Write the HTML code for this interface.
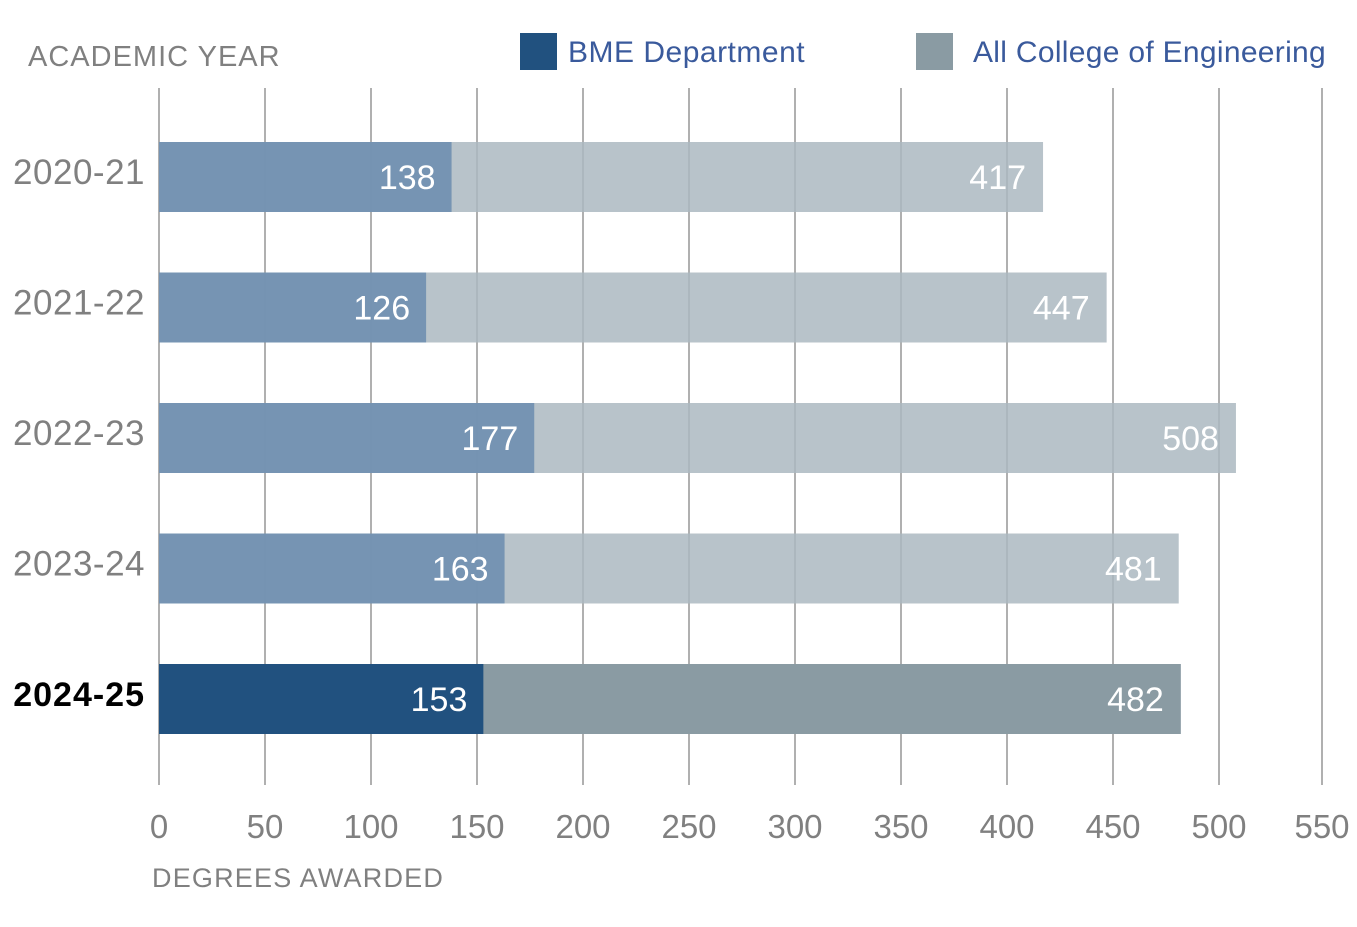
<!DOCTYPE html>
<html><head><meta charset="utf-8"><style>
body{margin:0;background:#fff;}
svg text{font-family:"Liberation Sans",sans-serif;}
</style></head><body>
<svg id="chart" width="1357" height="922" xmlns="http://www.w3.org/2000/svg">
<text x="28" y="66" font-size="29" fill="#808080" letter-spacing="1">ACADEMIC YEAR</text>
<rect x="520" y="33" width="37" height="37" fill="#21517f"/>
<text x="568" y="62" font-size="30" fill="#3a5a9c" letter-spacing="0.5">BME Department</text>
<rect x="916" y="33" width="37" height="37" fill="#8a9ba3"/>
<text x="973" y="62" font-size="30" fill="#3a5a9c" letter-spacing="0.3">All College of Engineering</text>
<g id="grid"></g><g id="bars"></g><g id="labels"></g>
<text x="152" y="887" font-size="27" fill="#808080" letter-spacing="1.2">DEGREES AWARDED</text>
</svg>
<script>
const years=["2020-21","2021-22","2022-23","2023-24","2024-25"];
const bme=[138,126,177,163,153];
const college=[417,447,508,481,482];
const ticks=[0,50,100,150,200,250,300,350,400,450,500,550];
const NS="http://www.w3.org/2000/svg";
const x0=159,x1=1325,maxV=550;
const X=v=>x0+(v/maxV)*(x1-x0);
const rowY=i=>142+i*130.5;
const bh=70;
function mk(tag,attrs,parent){const e=document.createElementNS(NS,tag);for(const k in attrs)e.setAttribute(k,attrs[k]);parent.appendChild(e);return e;}
const grid=document.getElementById('grid'),bars=document.getElementById('bars'),labels=document.getElementById('labels');
ticks.forEach(t=>{
  const gx=Math.min(X(t),1322);
  const l=mk('line',{x1:gx,x2:gx,y1:88,y2:785,stroke:'#b0b0b0','stroke-width':2},grid);
  
  
  const tx=mk('text',{x:gx,y:838,'font-size':33,fill:'#808080','text-anchor':'middle'},grid);
  tx.textContent=t;
  
  
});
const base=mk('line',{x1:x0,x2:x0,y1:768,y2:785,stroke:'#b0b0b0','stroke-width':2},grid);


years.forEach((y,i)=>{
  const last=i===years.length-1;
  const top=rowY(i);
  const c=mk('rect',{x:x0,y:top,width:X(college[i])-x0,height:bh,fill:last?'#8a9ba3':'#abb8c1','fill-opacity':last?1:0.85},bars);
  
  
  const b=mk('rect',{x:x0,y:top,width:X(bme[i])-x0,height:bh,fill:last?'#21517f':'#6f8fb0','fill-opacity':last?1:0.9},bars);
  
  
  const cl=mk('text',{x:X(college[i])-17,y:top+47,'font-size':34,fill:'#fff','text-anchor':'end'},labels);
  cl.textContent=college[i];
  
  
  const bl=mk('text',{x:X(bme[i])-16,y:top+47,'font-size':34,fill:'#fff','text-anchor':'end'},labels);
  bl.textContent=bme[i];
  
  
  const yl=mk('text',{x:145,y:top+42,'font-size':last?34:35,fill:last?'#000':'#808080','font-weight':last?'bold':'normal','text-anchor':'end','letter-spacing':last?1:0.5},labels);
  yl.textContent=y;
  
  
});
</script>
</body></html>
